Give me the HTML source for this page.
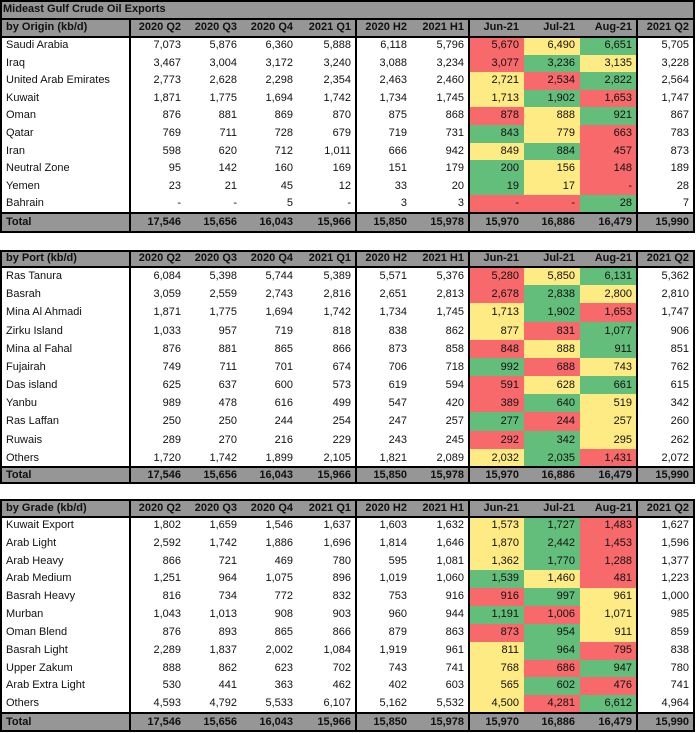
<!DOCTYPE html>
<html><head><meta charset="utf-8">
<style>
body{margin:0;background:#fff;font-family:"Liberation Sans",Arial,sans-serif;font-size:11px;color:#111;}
#wrap{position:relative;width:696px;height:733px;overflow:hidden;}
.c{position:absolute;box-sizing:border-box;white-space:nowrap;overflow:hidden;text-align:right;padding-right:5px;}
.l{text-align:left;padding-left:6px;padding-right:0;}
.h{background:#969696;font-weight:bold;}
.b{font-weight:bold;}
.ln{position:absolute;background:#000;}
</style></head>
<body>
<div id="wrap"></div>
<script>
const columnHeaders=["2020 Q2","2020 Q3","2020 Q4","2021 Q1","2020 H2","2021 H1","Jun-21","Jul-21","Aug-21","2021 Q2"];
const totals=[17546,15656,16043,15966,15850,15978,15970,16886,16479,15990];
const originLabels=["Saudi Arabia","Iraq","United Arab Emirates","Kuwait","Oman","Qatar","Iran","Neutral Zone","Yemen","Bahrain"];
const originValues=[
[7073,5876,6360,5888,6118,5796,5670,6490,6651,5705],
[3467,3004,3172,3240,3088,3234,3077,3236,3135,3228],
[2773,2628,2298,2354,2463,2460,2721,2534,2822,2564],
[1871,1775,1694,1742,1734,1745,1713,1902,1653,1747],
[876,881,869,870,875,868,878,888,921,867],
[769,711,728,679,719,731,843,779,663,783],
[598,620,712,1011,666,942,849,884,457,873],
[95,142,160,169,151,179,200,156,148,189],
[23,21,45,12,33,20,19,17,null,28],
[null,null,5,null,3,3,null,null,28,7]];
const portLabels=["Ras Tanura","Basrah","Mina Al Ahmadi","Zirku Island","Mina al Fahal","Fujairah","Das island","Yanbu","Ras Laffan","Ruwais","Others"];
const portValues=[
[6084,5398,5744,5389,5571,5376,5280,5850,6131,5362],
[3059,2559,2743,2816,2651,2813,2678,2838,2800,2810],
[1871,1775,1694,1742,1734,1745,1713,1902,1653,1747],
[1033,957,719,818,838,862,877,831,1077,906],
[876,881,865,866,873,858,848,888,911,851],
[749,711,701,674,706,718,992,688,743,762],
[625,637,600,573,619,594,591,628,661,615],
[989,478,616,499,547,420,389,640,519,342],
[250,250,244,254,247,257,277,244,257,260],
[289,270,216,229,243,245,292,342,295,262],
[1720,1742,1899,2105,1821,2089,2032,2035,1431,2072]];
const gradeLabels=["Kuwait Export","Arab Light","Arab Heavy","Arab Medium","Basrah Heavy","Murban","Oman Blend","Basrah Light","Upper Zakum","Arab Extra Light","Others"];
const gradeValues=[
[1802,1659,1546,1637,1603,1632,1573,1727,1483,1627],
[2592,1742,1886,1696,1814,1646,1870,2442,1453,1596],
[866,721,469,780,595,1081,1362,1770,1288,1377],
[1251,964,1075,896,1019,1060,1539,1460,481,1223],
[816,734,772,832,753,916,916,997,961,1000],
[1043,1013,908,903,960,944,1191,1006,1071,985],
[876,893,865,866,879,863,873,954,911,859],
[2289,1837,2002,1084,1919,961,811,964,795,838],
[888,862,623,702,743,741,768,686,947,780],
[530,441,363,462,402,603,565,602,476,741],
[4593,4792,5533,6107,5162,5532,4500,4281,6612,4964]];

const W=document.getElementById('wrap');
const X=[0,130,186,242,298,356,412,469,524,580,637,694];
const fmt=v=>v==null?'-':v.toLocaleString('en-US');
function cell(x,y,w,h,txt,cls,bg,name){
  const d=document.createElement('div');
  d.className='c '+(cls||'');
  d.style.left=x+'px';d.style.top=y+'px';d.style.width=w+'px';d.style.height=h+'px';d.style.lineHeight=h+'px';
  if(bg)d.style.background=bg;
  d.textContent=txt;
  
  
  W.appendChild(d);return d;
}
function line(x,y,w,h){
  const d=document.createElement('div');d.className='ln';
  d.style.left=x+'px';d.style.top=y+'px';d.style.width=w+'px';d.style.height=h+'px';
  
  
  W.appendChild(d);
}
function heat(vals){
  const m=vals.slice(6,9).map(v=>v==null?0:v);
  const mx=Math.max(...m),mn=Math.min(...m);
  return m.map(v=>v===mx&&mx!==mn?'#63be7b':(v===mn?'#f8696b':'#ffeb84'));
}
function section(top,hdrH,title,labels,values,dataH,totH,key){
  const rh=dataH/labels.length;
  cell(0,top,694,hdrH,'','h','#969696',key+'-header-bg');
  cell(0,top,130,hdrH,title,'l h',null,key+'-title');
  for(let i=0;i<10;i++)cell(X[i+1],top,X[i+2]-X[i+1],hdrH,columnHeaders[i],'h',null,key+'-col-header');
  const y0=top+hdrH;
  labels.forEach((lab,r)=>{
    const y=y0+r*rh;
    cell(0,y,130,rh,lab,'l',null,key+'-row-label');
    const cols=heat(values[r]);
    values[r].forEach((v,i)=>{
      const bg=(i>=6&&i<=8)?cols[i-6]:null;
      cell(X[i+1],y,X[i+2]-X[i+1],rh,fmt(v),'',bg,key+'-value-cell');
    });
  });
  const ty=y0+dataH;
  cell(0,ty,694,totH,'','h','#969696',key+'-total-bg');
  cell(0,ty,130,totH,'Total','l h',null,key+'-total-label');
  totals.forEach((v,i)=>cell(X[i+1],ty,X[i+2]-X[i+1],totH,fmt(v),'b',null,key+'-total-cell'));
  const bottom=ty+totH;
  line(0,top,695,2);line(0,bottom-1,695,2);
  line(0,y0-1,695,2);line(0,ty-1,695,2);
  line(0,top,2,bottom-top);line(693,top,2,bottom-top+1);
  [130,356,469,637].forEach(x=>line(x-1,top,2,bottom-top));
}
// title row
cell(0,0,694,18,'','h','#969696','title-bg');
const t=cell(0,0,400,18,'Mideast Gulf Crude Oil Exports','l h',null,'table-title');
t.style.paddingLeft='3px';t.style.background='transparent';
line(0,0,695,2);line(0,0,2,18);line(693,0,2,18);
section(18,19,'by Origin (kb/d)',originLabels,originValues,176,19,'origin');
section(250,17,'by Port (kb/d)',portLabels,portValues,200,16,'port');
section(499,18,'by Grade (kb/d)',gradeLabels,gradeValues,196,18,'grade');
</script>
</body></html>
